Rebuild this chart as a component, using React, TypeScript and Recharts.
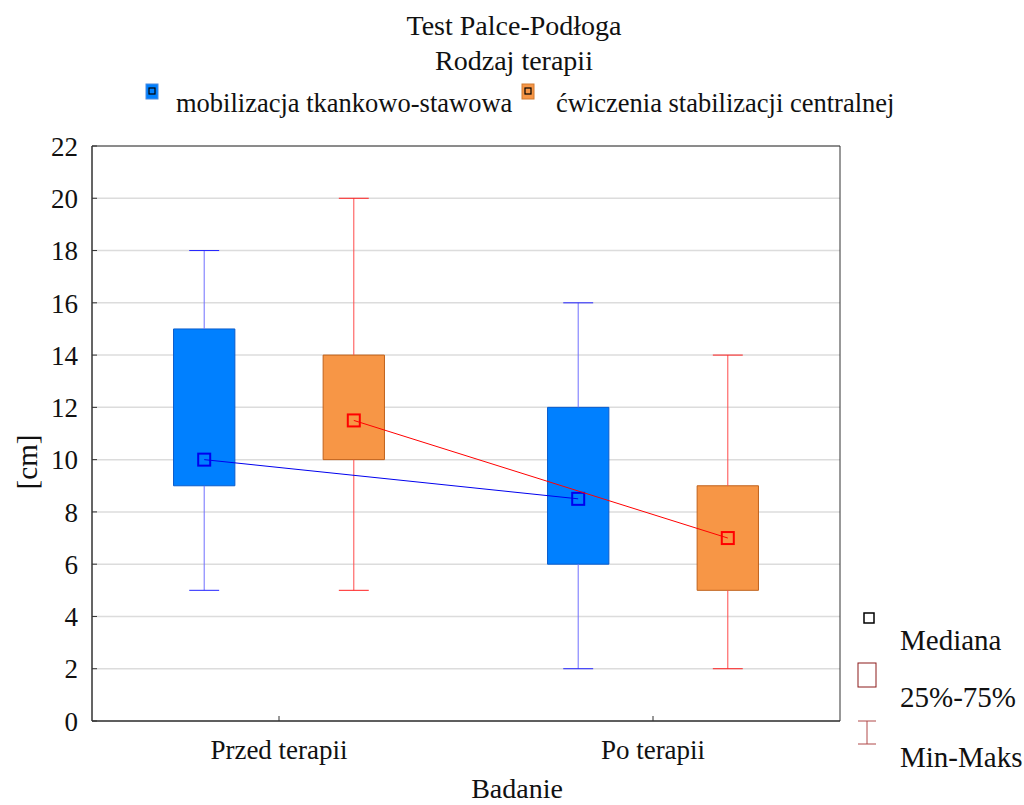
import React from "react";
import {
  CartesianGrid,
  ComposedChart,
  ReferenceArea,
  ReferenceLine,
  Scatter,
  XAxis,
  YAxis,
} from "recharts";

const FONT = '"Liberation Serif", "Times New Roman", serif';

const CATEGORIES = ["Przed terapii", "Po terapii"];
const CATEGORY_X = [0.5, 1.5];
const Y_TICKS = [0, 2, 4, 6, 8, 10, 12, 14, 16, 18, 20, 22];

// mobilizacja tkankowo-stawowa
const MOB_MIN = [5, 2];
const MOB_Q1 = [9, 6];
const MOB_MED = [10, 8.5];
const MOB_Q3 = [15, 12];
const MOB_MAX = [18, 16];

// ćwiczenia stabilizacji centralnej
const CW_MIN = [5, 2];
const CW_Q1 = [10, 5];
const CW_MED = [11.5, 7];
const CW_Q3 = [14, 9];
const CW_MAX = [20, 14];

const BOX_HALF = 0.082;
const CAP_HALF = 0.04;

const SERIES = [
  {
    name: "mobilizacja tkankowo-stawowa",
    offset: -0.2,
    min: MOB_MIN,
    q1: MOB_Q1,
    med: MOB_MED,
    q3: MOB_Q3,
    max: MOB_MAX,
    fill: "#0080ff",
    boxStroke: "#0a5ccc",
    whisker: "#6f6fff",
    cap: "#2323ff",
    median: "#0000ee",
  },
  {
    name: "ćwiczenia stabilizacji centralnej",
    offset: 0.2,
    min: CW_MIN,
    q1: CW_Q1,
    med: CW_MED,
    q3: CW_Q3,
    max: CW_MAX,
    fill: "#f79646",
    boxStroke: "#c0621c",
    whisker: "#ff4a4a",
    cap: "#ff2020",
    median: "#ff0000",
  },
];

function YTick(props: any) {
  const { x, y, payload } = props;
  return (
    <g>
      <line x1={x} x2={x + 5} y1={y} y2={y} stroke="#333" />
      <text
        x={x - 14}
        y={y}
        dy="0.36em"
        textAnchor="end"
        fontFamily={FONT}
        style={{ fontFamily: FONT }}
        fontSize={27}
        fill="#111"
      >
        {payload.value}
      </text>
    </g>
  );
}

function XTick(props: any) {
  const { x, y, payload } = props;
  const idx = CATEGORY_X.indexOf(payload.value);
  return (
    <g>
      <line x1={x} x2={x} y1={y} y2={y - 5} stroke="#333" />
      <text
        x={x}
        y={y + 38}
        textAnchor="middle"
        fontFamily={FONT}
        style={{ fontFamily: FONT }}
        fontSize={27}
        fill="#111"
      >
        {CATEGORIES[idx]}
      </text>
    </g>
  );
}

function MedianSquare(props: any) {
  const { cx, cy, color } = props;
  return <rect x={cx - 6} y={cy - 6} width={12} height={12} fill="none" stroke={color} strokeWidth={2} />;
}

export default function App() {
  return (
    <div
      style={{
        position: "absolute",
        left: 0,
        top: 0,
        width: 1024,
        height: 805,
        background: "#fff",
        fontFamily: FONT,
      }}
    >
      <ComposedChart
        width={1024}
        height={805}
        margin={{ top: 146, right: 184, bottom: 0, left: 0 }}
      >
        <CartesianGrid horizontal vertical={false} stroke="#dcdcdc" strokeWidth={1.5} />
        <XAxis
          type="number"
          dataKey="x"
          domain={[0, 2]}
          ticks={CATEGORY_X}
          height={84}
          tickSize={0}
          tickMargin={0}
          tickLine={false}
          axisLine={{ stroke: "#333" }}
          tick={<XTick />}
          interval={0}
        />
        <YAxis
          type="number"
          dataKey="y"
          domain={[0, 22]}
          ticks={Y_TICKS}
          width={92}
          tickSize={0}
          tickMargin={0}
          tickLine={false}
          axisLine={{ stroke: "#333" }}
          tick={<YTick />}
          interval={0}
        />
        <ReferenceArea x1={0} x2={2} y1={0} y2={22} fill="none" stroke="#333" strokeWidth={1} />
        {SERIES.map((s) =>
          CATEGORY_X.map((cx, i) => {
            const x = cx + s.offset;
            return (
              <React.Fragment key={s.name + i}>
                <ReferenceLine
                  segment={[{ x, y: s.q3[i] }, { x, y: s.max[i] }]}
                  stroke={s.whisker}
                  strokeWidth={1}
                />
                <ReferenceLine
                  segment={[{ x, y: s.min[i] }, { x, y: s.q1[i] }]}
                  stroke={s.whisker}
                  strokeWidth={1}
                />
                <ReferenceLine
                  segment={[{ x: x - CAP_HALF, y: s.max[i] }, { x: x + CAP_HALF, y: s.max[i] }]}
                  stroke={s.cap}
                  strokeWidth={1}
                />
                <ReferenceLine
                  segment={[{ x: x - CAP_HALF, y: s.min[i] }, { x: x + CAP_HALF, y: s.min[i] }]}
                  stroke={s.cap}
                  strokeWidth={1}
                />
                <ReferenceArea
                  x1={x - BOX_HALF}
                  x2={x + BOX_HALF}
                  y1={s.q1[i]}
                  y2={s.q3[i]}
                  fill={s.fill}
                  fillOpacity={1}
                  stroke={s.boxStroke}
                  strokeWidth={1}
                />
              </React.Fragment>
            );
          })
        )}
        {SERIES.map((s) => (
          <Scatter
            key={s.name}
            name={s.name}
            data={CATEGORY_X.map((cx, i) => ({ x: cx + s.offset, y: s.med[i] }))}
            dataKey="y"
            line={{ stroke: s.median, strokeWidth: 1 }}
            lineType="joint"
            shape={<MedianSquare color={s.median} />}
            isAnimationActive={false}
          />
        ))}
      </ComposedChart>

      <svg
        width={1024}
        height={805}
        style={{ position: "absolute", left: 0, top: 0, pointerEvents: "none", fontFamily: FONT }}
      >
        <g fill="#111">
          <text x={514} y={35} textAnchor="middle" fontSize={28}>
            Test Palce-Podłoga
          </text>
          <text x={514} y={70} textAnchor="middle" fontSize={28}>
            Rodzaj terapii
          </text>

          <rect x={146} y={84} width={12} height={15} fill="#0080ff" stroke="#4a8ae0" />
          <rect x={149} y={88} width={6} height={6} fill="none" stroke="#000" strokeWidth={1.2} />
          <text x={176} y={112} fontSize={26.5}>
            mobilizacja tkankowo-stawowa
          </text>
          <rect x={522} y={84} width={12} height={15} fill="#f79646" stroke="#d07a30" />
          <rect x={525} y={88} width={6} height={6} fill="none" stroke="#000" strokeWidth={1.2} />
          <text x={556} y={112} fontSize={26.5}>
            ćwiczenia stabilizacji centralnej
          </text>

          <text x={517} y={798} textAnchor="middle" fontSize={28}>
            Badanie
          </text>
          <text
            x={27}
            y={462}
            textAnchor="middle"
            fontSize={29}
            transform="rotate(-90 27 462)"
            dy="0.35em"
          >
            [cm]
          </text>

          <rect x={864} y={613} width={10} height={10} fill="none" stroke="#000" strokeWidth={1.5} />
          <text x={900} y={650} fontSize={29}>
            Mediana
          </text>
          <rect x={858} y={663} width={18} height={24} fill="none" stroke="#8b1a1a" strokeWidth={1} />
          <text x={900} y={707} fontSize={29}>
            25%-75%
          </text>
          <line x1={858} x2={876} y1={721} y2={721} stroke="#b04848" />
          <line x1={867} x2={867} y1={721} y2={744} stroke="#b04848" />
          <line x1={858} x2={876} y1={744} y2={744} stroke="#b04848" />
          <text x={900} y={767} fontSize={29}>
            Min-Maks
          </text>
        </g>
      </svg>
    </div>
  );
}
